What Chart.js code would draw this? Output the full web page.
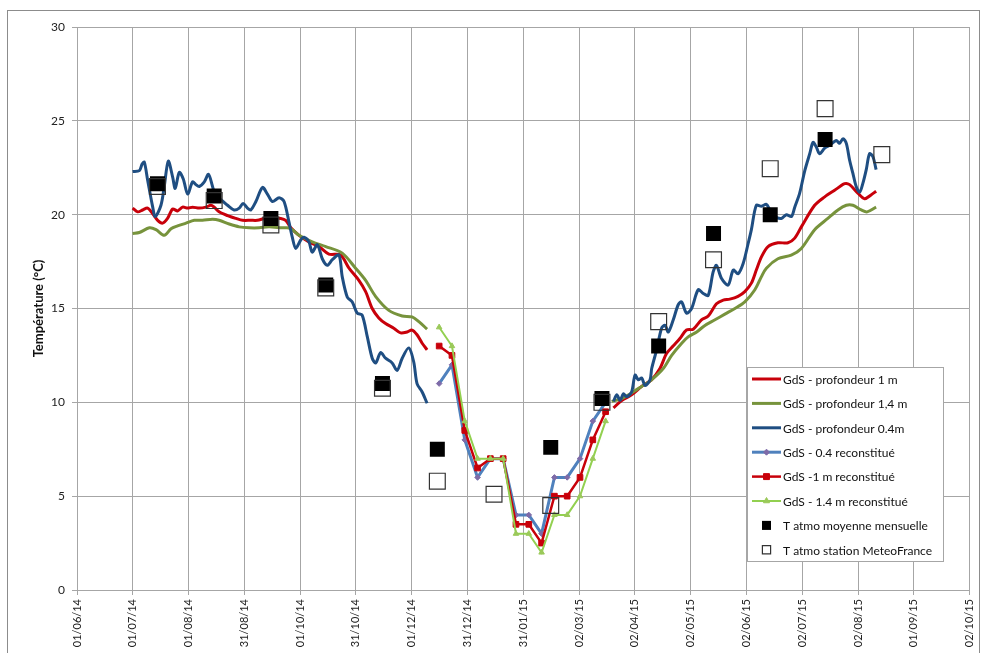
<!DOCTYPE html>
<html>
<head>
<meta charset="utf-8">
<script src="https://cdn.jsdelivr.net/npm/chart.js@4.4.1/dist/chart.umd.min.js"></script>
<style>
  body { margin: 0; background: #fff; }
  canvas { display: block; }
</style>
</head>
<body>
<canvas id="chart" width="982" height="653"></canvas>
<script>
// x values are days counted from 01/06/14 (labels every 30.5 days, like the excel axis)
const tickLabels = ['01/06/14', '01/07/14', '01/08/14', '31/08/14', '01/10/14', '31/10/14', '01/12/14', '31/12/14',
  '31/01/15', '02/03/15', '02/04/15', '02/05/15', '02/06/15', '02/07/15', '02/08/15', '01/09/15', '02/10/15'];
const tickStep = 30.5;

// GdS - profondeur 1 m (null = gap in the record)
const prof1mDays = [30.4, 33.2, 35.9, 38.6, 41.4, 44.1, 46.8, 49.5, 52.3, 55.0, 57.7, 60.5, 63.2, 66.8, 70.5, 73.2, 75.0, 77.7,
  82.3, 86.9, 90.5, 95.0, 98.6, 102.3, 105.0, 111.4, 114.1, 116.9, 121.4, 126.8, 132.3, 137.7, 144.1, 148.7, 154.1, 157.8,
  161.4, 165.0, 168.7, 173.2, 176.9, 180.5, 183.2, 185.9, 188.7, 191.4,
  240,
  293.3, 297.8, 303.2, 308.7, 314.1, 318.7, 322.3, 325.9, 329.6, 333.2, 336.9, 341.4, 345.1, 349.6, 353.3, 356.9, 361.4,
  365.1, 368.7, 371.4, 374.2, 377.8, 383.2, 388.7, 392.4, 396.0, 403.3, 408.8, 414.2, 419.7, 422.4, 426.9, 430.6, 434.1, 436.9];
const prof1mTemp = [20.35, 20.15, 20.25, 20.35, 20.05, 19.7, 19.55, 19.8, 20.3, 20.2, 20.4, 20.35, 20.4, 20.35, 20.4, 20.5, 20.4, 20.15,
  19.95, 19.8, 19.7, 19.7, 19.7, 19.8, 19.85, 19.8, 19.7, 19.3, 18.9, 18.55, 18.3, 17.9, 17.85, 17.15, 16.5, 15.9,
  15.0, 14.5, 14.2, 13.95, 13.7, 13.75, 13.85, 13.6, 13.15, 12.8,
  null,
  9.7, 10.1, 10.4, 10.85, 11.2, 11.8, 12.6, 13.0, 13.4, 13.85, 13.9, 14.4, 14.6, 15.25, 15.45, 15.5, 15.65,
  15.9, 16.35, 17.05, 17.75, 18.3, 18.5, 18.5, 18.75, 19.35, 20.5, 20.95, 21.3, 21.65, 21.6, 21.15, 20.85, 21.05, 21.25];

// GdS - profondeur 1,4 m
const prof14Days = [30.4, 34.1, 39.6, 43.2, 47.7, 51.4, 55.0, 59.6, 64.1, 68.6, 74.1, 77.7, 83.2, 88.7, 94.1, 99.6, 105.0, 110.5,
  115.0, 117.7, 121.4, 128.6, 136.0, 145.0, 152.3, 157.8, 163.2, 170.5, 177.8, 183.2, 186.9, 191.4,
  240,
  292.3, 297.8, 303.2, 308.7, 314.1, 320.5, 325.1, 330.6, 334.3, 338.8, 343.3, 348.8, 354.2, 359.7, 365.1, 370.6, 374.2,
  376.9, 383.2, 390.5, 396.0, 403.3, 410.5, 416.0, 420.6, 424.2, 428.8, 432.0, 436.9];
const prof14Temp = [19.0, 19.05, 19.3, 19.2, 18.9, 19.25, 19.4, 19.55, 19.7, 19.7, 19.75, 19.7, 19.5, 19.35, 19.3, 19.3, 19.35, 19.3,
  19.3, 19.2, 18.9, 18.55, 18.3, 17.95, 17.15, 16.5, 15.65, 14.9, 14.6, 14.55, 14.3, 13.9,
  null,
  10.05, 10.2, 10.5, 10.85, 11.2, 11.8, 12.5, 13.15, 13.5, 13.75, 14.1, 14.4, 14.7, 15.0, 15.35, 16.0, 16.7,
  17.15, 17.65, 17.85, 18.2, 19.2, 19.8, 20.25, 20.5, 20.5, 20.25, 20.15, 20.4];

// GdS - profondeur 0.4m
const prof04Days = [30.4, 34.1, 35.6, 36.8, 38.6, 41.4, 42.8, 45.9, 47.7, 49.9, 52.3, 53.7, 55.9, 58.1, 60.5, 63.2, 65.0, 66.8,
  69.6, 71.9, 74.1, 75.9, 78.7, 82.3, 85.9, 88.7, 90.8, 93.2, 95.0, 97.8, 101.4, 104.1, 106.8, 110.5, 113.2, 115.9,
  117.7, 119.6, 122.3, 124.1, 126.8, 128.6, 131.4, 134.1, 136.8, 139.6, 143.2, 145.0, 147.8, 150.5, 153.2, 155.9,
  158.7, 161.4, 163.3, 166.0, 168.7, 172.3, 175.0, 177.8, 181.4, 184.1, 185.9, 188.7, 191.4,
  240,
  293.3, 295.1, 296.9, 298.7, 300.6, 303.2, 305.1, 306.9, 308.7, 310.6, 313.3, 314.2, 316.9, 319.6, 321.5, 323.3,
  326.0, 328.7, 330.5, 333.3, 336.0, 339.6, 342.4, 345.1, 347.8, 349.6, 352.4, 356.0, 358.8, 361.4, 364.2, 366.9,
  368.7, 371.4, 374.2, 376.9, 378.8, 381.5, 385.1, 387.8, 390.6, 392.4, 395.1, 397.9, 400.6, 402.4, 404.2, 406.0,
  408.8, 411.5, 415.1, 416.9, 418.8, 420.6, 422.4, 424.2, 426.0, 427.9, 429.6, 431.5, 433.3, 435.1, 436.9];
const prof04Temp = [22.3, 22.35, 22.7, 22.8, 21.85, 20.4, 19.9, 20.5, 21.5, 22.85, 22.0, 21.4, 22.25, 21.9, 21.1, 21.75, 21.6, 21.5,
  21.75, 22.15, 21.5, 20.95, 20.8, 20.5, 20.25, 20.35, 20.6, 20.35, 20.25, 20.7, 21.45, 21.1, 20.7, 20.9, 20.7, 19.6,
  18.8, 18.2, 18.65, 18.8, 18.55, 18.0, 18.4, 17.65, 17.3, 17.6, 17.85, 16.7, 15.6, 15.35, 14.75, 14.65,
  13.5, 12.35, 12.1, 12.65, 12.35, 12.1, 11.7, 12.35, 12.9, 12.15, 11.0, 10.55, 9.95,
  null,
  10.05, 10.4, 10.1, 10.45, 10.3, 10.55, 11.45, 11.2, 11.3, 10.9, 11.2, 11.8, 12.8, 13.95, 14.1, 13.75,
  14.4, 15.2, 15.35, 14.75, 15.0, 16.0, 15.8, 15.7, 16.95, 17.3, 16.6, 16.25, 17.05, 16.85, 17.4, 18.45,
  19.2, 20.5, 20.45, 20.55, 20.25, 19.9, 19.8, 20.0, 19.9, 20.4, 21.15, 22.35, 23.25, 23.85, 23.6, 23.25,
  23.55, 23.7, 23.95, 23.8, 24.05, 23.8, 22.9, 22.2, 21.5, 21.2, 21.65, 22.4, 23.25, 23.1, 22.4];

// reconstituted weekly values
const recDays = [198, 205, 212, 219, 226, 233, 240, 247, 254, 261, 268, 275, 282, 289];
const rec04Temp = [11, 12, 8, 6, 7, 7, 4, 4, 3, 6, 6, 7, 9, 10];
const rec1mTemp = [13, 12.5, 8.5, 6.5, 7, 7, 3.5, 3.5, 2.5, 5, 5, 6, 8, 9.5];
const rec14Temp = [14, 13, 9, 7, 7, 7, 3, 3, 2, 4, 4, 5, 7, 9];

// monthly air temperature
const monthDays = [44, 75, 106, 136, 167, 197, 228, 259, 287, 318, 348, 379, 409, 440];
const atmoMean = [21.65, 21.0, 19.8, 16.25, 11.0, 7.5, null, 7.6, 10.2, 13.0, 19.0, 20.0, 24.0, null];
const atmoMeteoFrance = [21.5, 20.75, 19.45, 16.1, 10.75, 5.8, 5.1, 4.5, 10.0, 14.3, 17.6, 22.45, 25.65, 23.2];

const pts = (days, temps) => days.map((d, i) => ({ x: d, y: temps[i] }));

const FONT = 'Lato, "Open Sans", sans-serif';

function drawMarker(ctx, style, x, y, r, fill, stroke, bw) {
  ctx.beginPath();
  if (style === 'rect') {
    const s = Math.SQRT1_2 * r;
    ctx.rect(x - s, y - s, 2 * s, 2 * s);
  } else if (style === 'rectRot') {
    ctx.moveTo(x - r, y); ctx.lineTo(x, y - r); ctx.lineTo(x + r, y); ctx.lineTo(x, y + r); ctx.closePath();
  } else if (style === 'triangle') {
    ctx.moveTo(x, y - r); ctx.lineTo(x + r * 0.866, y + r * 0.5); ctx.lineTo(x - r * 0.866, y + r * 0.5); ctx.closePath();
  }
  ctx.fillStyle = fill;
  ctx.fill();
  if (bw > 0) { ctx.strokeStyle = stroke; ctx.lineWidth = bw; ctx.stroke(); }
}

// legend box inside the plot, drawn by hand
const boxLegend = {
  id: 'boxLegend',
  afterDraw(chart) {
    const ctx = chart.ctx;
    ctx.save();
    ctx.fillStyle = '#fff';
    ctx.fillRect(747.5, 367.5, 196, 194);
    ctx.strokeStyle = '#a6a6a6';
    ctx.lineWidth = 1;
    ctx.strokeRect(747.5, 367.5, 196, 194);
    ctx.font = '12px ' + FONT;
    ctx.textBaseline = 'middle';
    chart.data.datasets.forEach((ds, i) => {
      const y = 379 + i * 24.4;
      if (ds.showLine !== false) {
        ctx.strokeStyle = ds.borderColor;
        ctx.lineWidth = ds.borderWidth;
        ctx.beginPath(); ctx.moveTo(752, y); ctx.lineTo(781, y); ctx.stroke();
      }
      if (ds.pointRadius > 0) {
        drawMarker(ctx, ds.pointStyle, 766.5, y, ds.legendRadius, ds.pointBackgroundColor, ds.pointBorderColor, ds.pointBorderWidth);
      }
      ctx.fillStyle = '#111';
      ctx.fillText(ds.label, 783, y + 1);
    });
    ctx.restore();
  }
};

const outerFrame = {
  id: 'outerFrame',
  beforeDraw(chart) {
    const ctx = chart.ctx;
    ctx.save();
    ctx.strokeStyle = '#8c8c8c';
    ctx.lineWidth = 1;
    ctx.strokeRect(7.5, 10.5, 972, 700);
    ctx.restore();
  }
};

const lineDs = (label, days, temps, color, order) => ({
  label, data: pts(days, temps), borderColor: color, backgroundColor: color,
  borderWidth: 3, pointRadius: 0, tension: 0.3, spanGaps: false, order
});

const recDs = (label, temps, color, marker, style, r, legendR, width, order) => ({
  label, data: pts(recDays, temps), borderColor: color, borderWidth: width, tension: 0,
  pointStyle: style, pointRadius: r, legendRadius: legendR,
  pointBackgroundColor: marker, pointBorderColor: marker, pointBorderWidth: 1, order
});

new Chart(document.getElementById('chart'), {
  type: 'line',
  data: {
    datasets: [
      lineDs('GdS - profondeur 1 m', prof1mDays, prof1mTemp, '#c8000a', 9),
      lineDs('GdS - profondeur 1,4 m', prof14Days, prof14Temp, '#77933c', 8),
      lineDs('GdS - profondeur 0.4m', prof04Days, prof04Temp, '#1f4e82', 7),
      recDs('GdS - 0.4 reconstitué', rec04Temp, '#4f81bd', '#7e6ba8', 'rectRot', 2.8, 3, 3, 6),
      recDs('GdS -1 m reconstitué', rec1mTemp, '#c8000a', '#c8000a', 'rect', 4, 4.2, 2.5, 5),
      recDs('GdS - 1.4 m reconstitué', rec14Temp, '#92d050', '#9bc95a', 'triangle', 3.2, 3.5, 2, 4),
      {
        label: 'T atmo moyenne mensuelle', data: pts(monthDays, atmoMean), showLine: false,
        pointStyle: 'rect', pointRadius: 10.6, legendRadius: 6.4,
        pointBackgroundColor: '#000', pointBorderColor: '#000', pointBorderWidth: 0, order: 1
      },
      {
        label: 'T atmo station MeteoFrance', data: pts(monthDays, atmoMeteoFrance), showLine: false,
        pointStyle: 'rect', pointRadius: 11.2, legendRadius: 5.8,
        pointBackgroundColor: 'rgba(0,0,0,0)', pointBorderColor: '#333', pointBorderWidth: 1.2, order: 0
      }
    ]
  },
  options: {
    responsive: false,
    animation: false,
    devicePixelRatio: 1,
    layout: { padding: { top: 27, right: 8, left: 0, bottom: 0 } },
    plugins: { legend: { display: false }, tooltip: { enabled: false } },
    scales: {
      x: {
        type: 'linear',
        min: 0,
        max: 488,
        afterBuildTicks: scale => {
          scale.ticks = tickLabels.map((l, i) => ({ value: i * tickStep }));
        },
        afterFit: scale => {
          scale.height = 63;
          scale.paddingLeft = 0;
          scale.paddingRight = 0;
        },
        grid: { color: '#a6a6a6', tickLength: 5 },
        border: { color: '#a6a6a6' },
        ticks: {
          autoSkip: false,
          maxRotation: 90,
          minRotation: 90,
          padding: 4,
          color: '#222',
          font: { family: FONT, size: 11 },
          callback: (v, i) => tickLabels[i]
        }
      },
      y: {
        min: 0,
        max: 30,
        afterFit: scale => {
          scale.width = 77;
          scale.paddingTop = 0;
          scale.paddingBottom = 0;
        },
        grid: { color: '#a6a6a6', tickLength: 5 },
        border: { color: '#a6a6a6' },
        ticks: { stepSize: 5, padding: 7, color: '#222', font: { family: FONT, size: 12 } },
        title: {
          display: true,
          text: 'Température (°C)',
          color: '#111',
          padding: { top: 31, bottom: 0 },
          font: { family: FONT, size: 13, weight: 'bold' }
        }
      }
    }
  },
  plugins: [outerFrame, boxLegend]
});
</script>
</body>
</html>
